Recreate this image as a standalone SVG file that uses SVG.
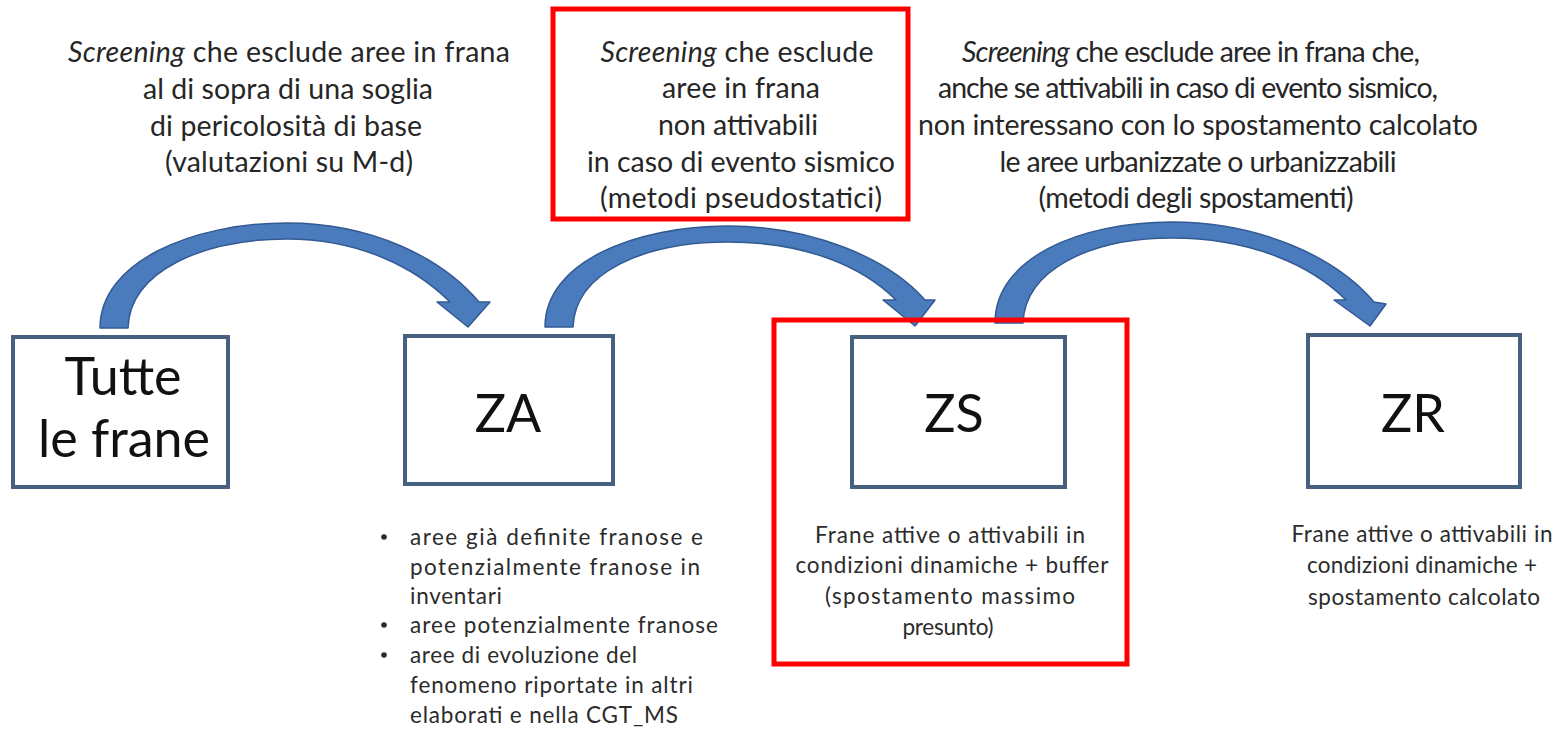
<svg xmlns="http://www.w3.org/2000/svg" width="1560" height="738" viewBox="0 0 1560 738">
<style>
.t{font-family:Lato,"Open Sans","Liberation Sans",sans-serif;fill:#262626;text-anchor:middle}
.top{font-size:28.5px}
.big{font-size:52px;fill:#111}
.small{font-size:22.5px;fill:#2b2b2b}
.lst{font-family:Lato,"Open Sans","Liberation Sans",sans-serif;fill:#2b2b2b;font-size:22.5px}
.box{fill:#fff;stroke:#46607f;stroke-width:4}
.arr{fill:#4a7bbd;stroke:#335a92;stroke-width:1.5;stroke-linejoin:round}
.red{fill:none;stroke:#ff0000;stroke-width:5}
</style>
<rect width="1560" height="738" fill="#fff"/>

<g id="label-1">
<text class="t top" x="289" y="62" textLength="442"><tspan font-style="italic">Screening</tspan> che esclude aree in frana</text>
<text class="t top" x="288" y="99" textLength="290">al di sopra di una soglia</text>
<text class="t top" x="286" y="136" textLength="272">di pericolosità di base</text>
<text class="t top" x="289" y="172" textLength="248">(valutazioni su M-d)</text>
</g>

<g id="label-2">
<rect class="red" x="553" y="9" width="355" height="210"/>
<text class="t top" x="737" y="62" textLength="273"><tspan font-style="italic">Screening</tspan> che esclude</text>
<text class="t top" x="741" y="98" textLength="158">aree in frana</text>
<text class="t top" x="738" y="135" textLength="160">non attivabili</text>
<text class="t top" x="741" y="172" textLength="308">in caso di evento sismico</text>
<text class="t top" x="741" y="208" textLength="282">(metodi pseudostatici)</text>
</g>

<g id="label-3">
<text class="t top" x="1191" y="62" textLength="458"><tspan font-style="italic">Screening</tspan> che esclude aree in frana che,</text>
<text class="t top" x="1188" y="98" textLength="500">anche se attivabili in caso di evento sismico,</text>
<text class="t top" x="1198" y="135" textLength="560">non interessano con lo spostamento calcolato</text>
<text class="t top" x="1198" y="172" textLength="397">le aree urbanizzate o urbanizzabili</text>
<text class="t top" x="1196" y="208" textLength="315">(metodi degli spostamenti)</text>
</g>

<g id="connectors">
<path class="arr" d="M100,328 C100,262 192,223 287,223 C372,223 442,258 479,302 L490,302 L468,327 L437,302 L450,302 C416,268 360,239 287,239 C205,239 130,270 128,328 Z"/>
<path class="arr" d="M545,327 C545,262 635,226 728,226 C812,226 888,258 925,300 L935,300 L915,326 L883,300 L896,300 C862,266 805,242 728,242 C645,242 575,272 573,327 Z"/>
<path class="arr" d="M995,323 C995,258 1080,222 1172,222 C1258,222 1335,256 1374,302 L1386,304 L1370,326 L1334,300 L1346,300 C1312,266 1252,238 1172,238 C1090,238 1025,270 1023,323 Z"/>
</g>

<g id="node-tutte">
<rect class="box" x="13" y="337" width="215" height="150"/>
<text class="t big" x="123" y="395">Tutte</text>
<text class="t big" x="124" y="457">le frane</text>
</g>

<g id="node-za">
<rect class="box" x="405" y="336" width="208" height="148"/>
<text class="t big" x="508" y="432">ZA</text>
<g class="lst">
<circle cx="384" cy="537" r="2.8" fill="#2b2b2b"/>
<circle cx="384" cy="625" r="2.8" fill="#2b2b2b"/>
<circle cx="384" cy="655" r="2.8" fill="#2b2b2b"/>
<text x="410" y="545" textLength="293">aree già definite franose e</text>
<text x="410" y="575" textLength="290">potenzialmente  franose in</text>
<text x="410" y="604" textLength="92">inventari</text>
<text x="410" y="633" textLength="308">aree potenzialmente franose</text>
<text x="410" y="663" textLength="227">aree di evoluzione del</text>
<text x="410" y="693" textLength="283">fenomeno  riportate  in altri</text>
<text x="410" y="723" textLength="268">elaborati e nella CGT_MS</text>
</g>
</g>

<g id="node-zs">
<rect class="red" x="774" y="320" width="353" height="344"/>
<rect class="box" x="852" y="337" width="213" height="150"/>
<text class="t big" x="954" y="432">ZS</text>
<text class="t small" x="950" y="543" textLength="270">Frane attive o attivabili in</text>
<text class="t small" x="952" y="573" textLength="313">condizioni  dinamiche + buffer</text>
<text class="t small" x="950" y="604" textLength="250">(spostamento massimo</text>
<text class="t small" x="948" y="635" textLength="91">presunto)</text>
</g>

<g id="node-zr">
<rect class="box" x="1308" y="335" width="212" height="152"/>
<text class="t big" x="1413" y="432">ZR</text>
<text class="t small" x="1422" y="542" textLength="261">Frane attive o attivabili in</text>
<text class="t small" x="1422" y="573" textLength="230">condizioni  dinamiche +</text>
<text class="t small" x="1424" y="605" textLength="232">spostamento calcolato</text>
</g>
</svg>
